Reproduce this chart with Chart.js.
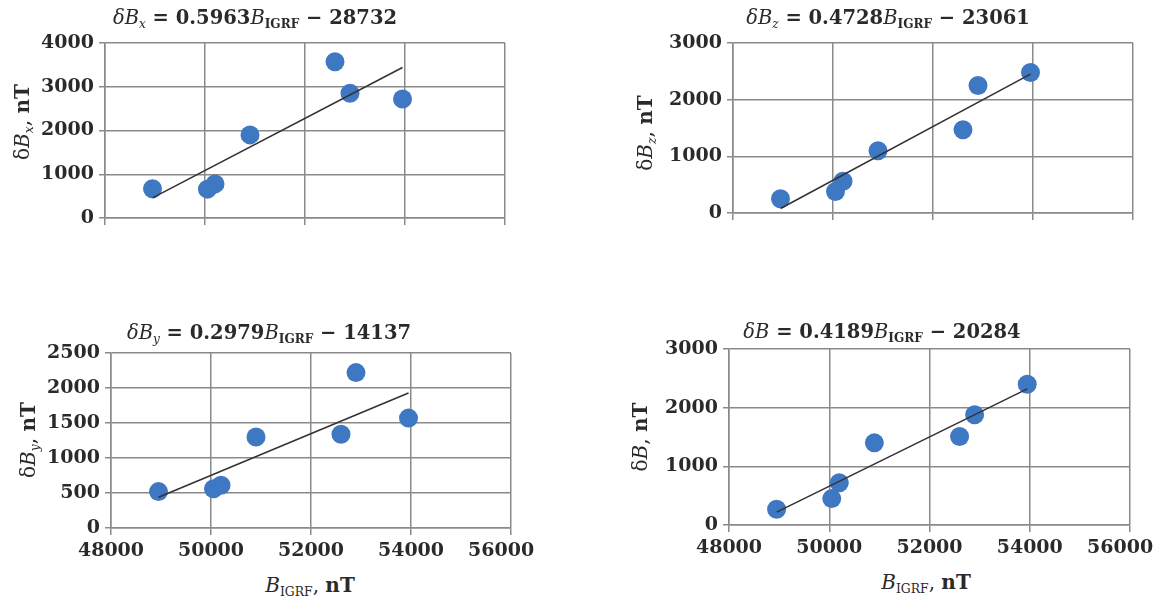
<!DOCTYPE html>
<html lang="en">
<head>
<meta charset="UTF-8">
<title>δB vs B_IGRF</title>
<script src="https://cdn.jsdelivr.net/npm/chart.js"></script>
<style>
  body { margin: 0; background: #fff; width: 1161px; height: 604px; position: relative; overflow: hidden;
         font-family: "DejaVu Serif", serif; color: #2a2a2a; }
  .panel { position: absolute; }
  .lbl { position: absolute; white-space: nowrap; transform: translate(-50%, -50%); line-height: 1; }
  .rot { transform: translate(-50%, -50%) rotate(-90deg); }
  .title { font-size: 19.5px; font-weight: bold; }
  .axt { font-size: 20px; }
  sub { font-size: 62%; vertical-align: -0.35em; line-height: 0; }
  i { font-style: italic; font-weight: normal; }
</style>
</head>
<body>

<div class="panel" id="pTL"><canvas id="cTL"></canvas></div>
<div class="panel" id="pTR"><canvas id="cTR"></canvas></div>
<div class="panel" id="pBL"><canvas id="cBL"></canvas></div>
<div class="panel" id="pBR"><canvas id="cBR"></canvas></div>

<!-- titles -->
<div class="lbl title" style="left:255px; top:18px;"><i>δB</i><sub><i>x</i></sub> = 0.5963<i>B</i><sub>IGRF</sub> − 28732</div>
<div class="lbl title" style="left:888px; top:18px;"><i>δB</i><sub><i>z</i></sub> = 0.4728<i>B</i><sub>IGRF</sub> − 23061</div>
<div class="lbl title" style="left:269px; top:333px;"><i>δB</i><sub><i>y</i></sub> = 0.2979<i>B</i><sub>IGRF</sub> − 14137</div>
<div class="lbl title" style="left:882px; top:332px;"><i>δB</i> = 0.4189<i>B</i><sub>IGRF</sub> − 20284</div>

<!-- y axis titles -->
<div class="lbl axt rot" style="left:22px; top:122px;">δ<i>B</i><sub><i>x</i></sub>, <b>nT</b></div>
<div class="lbl axt rot" style="left:645px; top:133px;">δ<i>B</i><sub><i>z</i></sub>, <b>nT</b></div>
<div class="lbl axt rot" style="left:28px; top:440px;">δ<i>B</i><sub><i>y</i></sub>, <b>nT</b></div>
<div class="lbl axt rot" style="left:640px; top:437px;">δ<i>B</i>, <b>nT</b></div>

<!-- x axis titles -->
<div class="lbl axt" style="left:310px; top:585px;"><i>B</i><sub>IGRF</sub>, <b>nT</b></div>
<div class="lbl axt" style="left:926px; top:582px;"><i>B</i><sub>IGRF</sub>, <b>nT</b></div>

<script>
    // IGRF field at the stations (shared x values), nT
    const bIgrf = [48950, 50050, 50200, 50900, 52600, 52900, 53950];

    // measured anomalies, nT
    const dBx = [670, 660, 780, 1900, 3570, 2850, 2720];
    const dBz = [250, 380, 560, 1100, 1470, 2250, 2480];
    const dBy = [520, 560, 610, 1300, 1340, 2220, 1570];
    const dBt = [270, 450, 720, 1400, 1510, 1880, 2400];

    // regression line end points
    const fitX = [48950, 53950];
    const fitBx = [460, 3440];
    const fitBz = [80, 2450];
    const fitBy = [440, 1930];
    const fitBt = [220, 2320];

    // axes
    const xTicks = [48000, 50000, 52000, 54000, 56000];

    const gridColor = '#8a8a8a';
    const pointColor = '#3f78c2';

    function toPoints(xs, ys) {
        return xs.map((x, i) => ({ x: x, y: ys[i] }));
    }

    // box = canvas position on page, area = wanted plot area on page
    // lastPad: trailing spaces on the last x label (it sits a bit left in the original)
    function makePanel(id, box, area, yVals, fitY, yMax, yStep, showX, lastPad) {
        const wrap = document.getElementById('p' + id);
        const canvas = document.getElementById('c' + id);
        wrap.style.left = box.x + 'px';
        wrap.style.top = box.y + 'px';
        canvas.width = box.w;
        canvas.height = box.h;

        const yWidth = area.left - box.x;
        const xHeight = box.y + box.h - area.bottom;
        const tickFont = { family: 'DejaVu Serif', size: 19, weight: 'bold' };

        new Chart(canvas, {
            type: 'scatter',
            data: {
                datasets: [
                    {
                        type: 'line',
                        data: toPoints(fitX, fitY),
                        borderColor: '#333',
                        borderWidth: 1.6,
                        pointRadius: 0,
                        fill: false,
                        order: 0
                    },
                    {
                        data: toPoints(bIgrf, yVals),
                        backgroundColor: pointColor,
                        borderWidth: 0,
                        pointRadius: 9.5,
                        order: 1
                    }
                ]
            },
            options: {
                responsive: false,
                animation: false,
                events: [],
                layout: {
                    padding: { top: area.top - box.y, right: box.x + box.w - area.right, left: 0, bottom: 0 }
                },
                plugins: {
                    legend: { display: false },
                    tooltip: { enabled: false }
                },
                scales: {
                    x: {
                        type: 'linear',
                        min: xTicks[0],
                        max: xTicks[xTicks.length - 1],
                        afterBuildTicks: s => { s.ticks = xTicks.map(v => ({ value: v })); },
                        ticks: {
                            display: showX,
                            font: tickFont,
                            color: '#2a2a2a',
                            padding: 5,
                            maxRotation: 0,
                            autoSkip: false,
                            callback: (v, i) => i === xTicks.length - 1 ? String(v) + ' '.repeat(lastPad) : String(v)
                        },
                        grid: { color: gridColor, lineWidth: 1.5, tickLength: 7 },
                        border: { color: gridColor, width: 1.5 },
                        afterFit: s => { s.height = xHeight; s.paddingLeft = 0; s.paddingRight = 0; }
                    },
                    y: {
                        min: 0,
                        max: yMax,
                        ticks: {
                            stepSize: yStep,
                            font: tickFont,
                            color: '#2a2a2a',
                            padding: 5,
                            callback: v => String(v)
                        },
                        grid: { color: gridColor, lineWidth: 1.5, tickLength: 6 },
                        border: { color: gridColor, width: 1.5 },
                        afterFit: s => { s.width = yWidth; s.paddingTop = 0; s.paddingBottom = 0; }
                    }
                }
            }
        });
    }

    makePanel('TL', { x: 0, y: 28, w: 520, h: 212 }, { left: 105, top: 43, right: 505, bottom: 218 },
        dBx, fitBx, 4000, 1000, false, 0);
    makePanel('TR', { x: 610, y: 28, w: 551, h: 212 }, { left: 733, top: 43, right: 1133, bottom: 213 },
        dBz, fitBz, 3000, 1000, false, 0);
    makePanel('BL', { x: 0, y: 340, w: 560, h: 230 }, { left: 111, top: 353, right: 511, bottom: 528 },
        dBy, fitBy, 2500, 500, true, 3);
    makePanel('BR', { x: 610, y: 335, w: 551, h: 235 }, { left: 729, top: 349, right: 1130, bottom: 525 },
        dBt, fitBt, 3000, 1000, true, 3);
</script>
</body>
</html>
